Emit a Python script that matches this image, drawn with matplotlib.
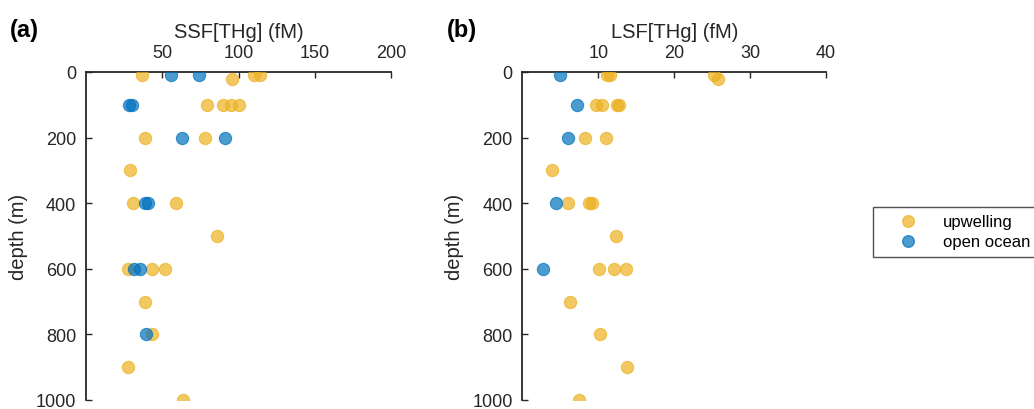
import matplotlib
matplotlib.use("Agg")
import matplotlib.pyplot as plt
from matplotlib.lines import Line2D

plt.rcParams['font.family'] = ['Liberation Sans', 'DejaVu Sans']

# depth (m) and concentrations
ssf_up_depth = [10, 20, 10, 10, 100, 100, 100, 100, 200, 200, 300, 400, 400,
                500, 600, 600, 600, 700, 800, 900, 1000]
ssf_up_val = [36.5, 96, 110, 114, 79, 89.5, 95, 100, 38.7, 77.8, 29, 30.8, 58.8,
              85.8, 27.3, 43.3, 51.6, 38.7, 43, 27.7, 63.8]
ssf_oo_depth = [10, 10, 100, 100, 200, 200, 400, 400, 600, 600, 800]
ssf_oo_val = [55.5, 74, 28.4, 29.9, 62.7, 90.9, 38.9, 40.4, 31.7, 35.4, 39.3]

lsf_up_depth = [10, 10, 10, 20, 100, 100, 100, 100, 200, 200, 300, 400, 400, 400,
                500, 600, 600, 600, 700, 800, 900, 1000]
lsf_up_val = [11.2, 11.5, 25.2, 25.8, 9.7, 10.5, 12.4, 12.7, 8.3, 11.0, 3.9, 6.0, 8.8, 9.2,
              12.3, 10.1, 12.1, 13.7, 6.2, 10.2, 13.8, 7.4]
lsf_oo_depth = [10, 100, 200, 400, 600]
lsf_oo_val = [4.9, 7.2, 6.0, 4.4, 2.7]

yellow = (0.929, 0.694, 0.125)
blue = (0.0, 0.447, 0.741)

fig = plt.figure(figsize=(10.34, 4.10), dpi=100)
ax1 = fig.add_axes([0.0832, 0.022, 0.295, 0.800])
ax2 = fig.add_axes([0.5053, 0.022, 0.2935, 0.800])

panels = [
    (ax1, ssf_up_val, ssf_up_depth, ssf_oo_val, ssf_oo_depth, 'SSF[THg] (fM)', [0, 200], [50, 100, 150, 200], '(a)'),
    (ax2, lsf_up_val, lsf_up_depth, lsf_oo_val, lsf_oo_depth, 'LSF[THg] (fM)', [0, 40], [10, 20, 30, 40], '(b)'),
]

for ax, uv, ud, ov, od, xlab, xlim, xt, tag in panels:
    ax.scatter(uv, ud, s=78, facecolor=yellow, edgecolor=yellow, alpha=0.7, linewidths=0.8, zorder=3)
    ax.scatter(ov, od, s=78, facecolor=blue, edgecolor=blue, alpha=0.7, linewidths=0.8, zorder=3)
    ax.set_xlim(xlim)
    ax.set_ylim(1000, 0)
    ax.set_xticks(xt)
    ax.set_yticks([0, 200, 400, 600, 800, 1000])
    ax.xaxis.tick_top()
    ax.xaxis.set_label_position('top')
    ax.set_xlabel(xlab, fontsize=14.5, labelpad=5, color='#262626')
    ax.set_ylabel('depth (m)', fontsize=14.5, labelpad=6, color='#262626')
    ax.tick_params(direction='in', length=4, width=1, labelsize=13, colors='#262626')
    ax.tick_params(axis='x', pad=8)
    ax.tick_params(axis='y', pad=7)
    for s in ['right', 'bottom']:
        ax.spines[s].set_visible(False)
    for s in ['left', 'top']:
        ax.spines[s].set_linewidth(1.3)
        ax.spines[s].set_color('#262626')
    ax.text(-0.25, 1.131, tag, transform=ax.transAxes, fontsize=17, fontweight='bold',
            va='center', ha='left')

handles = [
    Line2D([], [], ls='none', marker='o', markersize=8.4, markerfacecolor=yellow,
           markeredgecolor=yellow, alpha=0.7),
    Line2D([], [], ls='none', marker='o', markersize=8.4, markerfacecolor=blue,
           markeredgecolor=blue, alpha=0.7),
]
leg = fig.legend(handles, ['upwelling', 'open ocean'], loc='upper left',
                 bbox_to_anchor=(0.844, 0.493), fontsize=12, frameon=True,
                 fancybox=False, edgecolor='#262626', borderpad=0.45,
                 handletextpad=0.45, labelspacing=0.3, handlelength=3.3,
                 borderaxespad=0)
leg.get_frame().set_linewidth(1.0)

fig.savefig('out.png', dpi=100)
